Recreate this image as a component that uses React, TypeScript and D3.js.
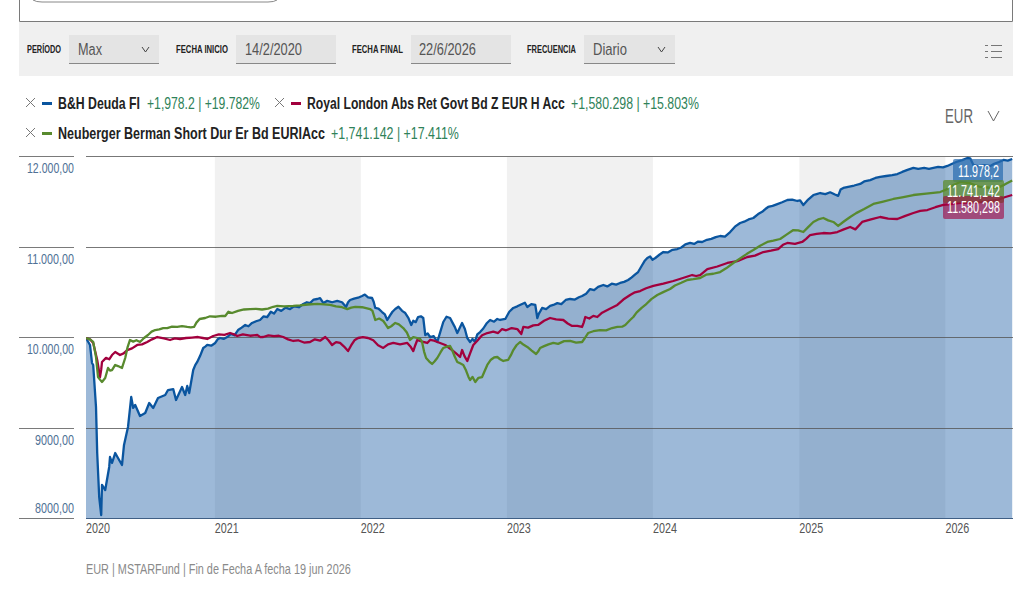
import React, { useLayoutEffect, useRef } from "react";
import * as d3 from "d3";

const startDate = new Date(2020, 1, 14);
const endDate = new Date(2026, 5, 19);

const yTickValues = [12000, 11000, 10000, 9000, 8000];
const yTickLabels = ["12.000,00", "11.000,00", "10.000,00", "9000,00", "8000,00"];
const yearLabels = [2020, 2021, 2022, 2023, 2024, 2025, 2026];
const shadedYears = [2021, 2023, 2025];

// [days since start, value]
const blueSeries: [number, number][] = [[0,10000],[10,9923],[15,9724],[18,9702],[25,9238],[28,8729],[33,8243],[38,8044],[40,8376],[48,8320],[58,8575],[60,8685],[65,8619],[73,8729],[80,8674],[90,8597],[95,8818],[105,9017],[113,9348],[118,9227],[123,9260],[135,9138],[148,9171],[158,9282],[168,9227],[180,9337],[198,9370],[205,9425],[218,9436],[225,9315],[240,9459],[248,9370],[253,9470],[258,9392],[268,9646],[273,9700],[278,9735],[285,9800],[293,9890],[298,9905],[303,9923],[313,9915],[323,9945],[329,9985],[335,10000],[344,9990],[353,10011],[362,10045],[371,10030],[380,10088],[389,10115],[398,10144],[406,10130],[415,10166],[425,10185],[435,10199],[444,10240],[453,10232],[462,10290],[470,10270],[478,10320],[488,10300],[499,10335],[510,10320],[520,10350],[532,10340],[543,10376],[552,10395],[560,10385],[569,10425],[578,10431],[585,10440],[593,10387],[603,10410],[615,10395],[628,10409],[640,10395],[650,10343],[655,10395],[660,10420],[670,10435],[680,10445],[690,10464],[697,10480],[705,10450],[715,10442],[719,10400],[723,10332],[731,10325],[740,10287],[747,10260],[753,10199],[760,10250],[766,10290],[773,10320],[781,10345],[790,10300],[798,10276],[806,10220],[813,10144],[818,10190],[824,10175],[830,10232],[837,10240],[843,10221],[848,10033],[854,10050],[860,10011],[869,10020],[878,9956],[885,10060],[893,10177],[901,10235],[910,10221],[916,10170],[922,10120],[928,10055],[934,10110],[940,10166],[947,10100],[953,10000],[960,9956],[966,9990],[972,9960],[978,10040],[985,10066],[993,10105],[1001,10160],[1010,10199],[1020,10180],[1028,10210],[1035,10199],[1048,10210],[1058,10290],[1068,10332],[1078,10350],[1090,10376],[1097,10390],[1103,10343],[1113,10375],[1123,10365],[1128,10221],[1132,10270],[1136,10300],[1140,10332],[1150,10320],[1160,10355],[1168,10365],[1178,10385],[1188,10375],[1199,10420],[1210,10431],[1222,10425],[1232,10450],[1240,10464],[1250,10490],[1260,10541],[1270,10530],[1280,10565],[1293,10586],[1303,10570],[1314,10600],[1325,10590],[1335,10608],[1345,10620],[1355,10641],[1364,10670],[1372,10700],[1380,10729],[1388,10790],[1396,10850],[1403,10884],[1410,10900],[1416,10865],[1423,10884],[1433,10920],[1443,10950],[1454,10945],[1466,10975],[1478,10983],[1488,11000],[1498,11035],[1510,11050],[1520,11040],[1530,11065],[1540,11061],[1552,11085],[1563,11095],[1574,11115],[1585,11127],[1597,11120],[1610,11171],[1622,11230],[1635,11271],[1645,11285],[1656,11310],[1668,11326],[1680,11370],[1690,11395],[1698,11425],[1705,11448],[1716,11460],[1728,11480],[1740,11500],[1753,11525],[1765,11530],[1778,11514],[1785,11520],[1793,11470],[1805,11530],[1818,11580],[1826,11590],[1835,11602],[1848,11590],[1860,11610],[1872,11585],[1880,11570],[1886,11640],[1893,11658],[1905,11670],[1920,11685],[1935,11702],[1945,11730],[1960,11745],[1973,11768],[1985,11780],[2000,11790],[2015,11800],[2028,11812],[2040,11835],[2055,11860],[2068,11879],[2080,11870],[2095,11880],[2107,11870],[2118,11879],[2130,11890],[2142,11885],[2153,11901],[2165,11925],[2178,11950],[2190,11965],[2203,11989],[2210,11985],[2218,11912],[2230,11900],[2245,11910],[2260,11901],[2270,11925],[2282,11945],[2293,11967],[2304,11960],[2315,11978]];

const greenSeries: [number, number][] = [[0,10000],[10,9985],[18,9956],[25,9790],[30,9569],[35,9540],[40,9514],[48,9558],[55,9669],[60,9640],[65,9646],[73,9702],[80,9690],[90,9669],[98,9779],[104,9900],[110,9978],[118,9960],[126,9975],[135,9956],[145,10000],[155,10033],[164,10070],[173,10088],[183,10095],[193,10110],[203,10110],[215,10125],[228,10122],[240,10130],[253,10122],[262,10118],[270,10122],[276,10170],[284,10210],[298,10221],[310,10240],[325,10235],[340,10245],[348,10243],[356,10290],[365,10276],[380,10300],[395,10315],[410,10320],[425,10322],[440,10315],[455,10325],[468,10345],[478,10354],[495,10350],[518,10354],[535,10360],[555,10370],[578,10376],[595,10372],[610,10365],[625,10350],[640,10340],[653,10320],[663,10335],[673,10343],[690,10340],[710,10320],[716,10300],[723,10199],[733,10215],[743,10188],[749,10150],[755,10110],[763,10130],[773,10166],[782,10150],[793,10110],[802,10060],[810,9978],[818,10010],[828,10000],[835,9990],[840,9956],[845,9850],[850,9779],[858,9740],[865,9713],[871,9740],[878,9779],[886,9840],[893,9890],[902,9905],[910,9912],[915,9870],[921,9800],[928,9735],[935,9720],[943,9702],[950,9640],[956,9570],[960,9536],[966,9570],[973,9514],[981,9560],[990,9569],[997,9640],[1003,9702],[1012,9760],[1020,9785],[1028,9790],[1035,9765],[1043,9746],[1055,9757],[1062,9810],[1068,9867],[1076,9920],[1085,9956],[1094,9925],[1103,9901],[1114,9860],[1125,9823],[1130,9850],[1135,9890],[1145,9910],[1156,9930],[1168,9945],[1180,9935],[1195,9965],[1210,9967],[1225,9950],[1240,9956],[1247,10000],[1255,10055],[1268,10075],[1285,10088],[1300,10085],[1315,10110],[1328,10122],[1340,10125],[1348,10144],[1360,10199],[1368,10232],[1376,10280],[1388,10330],[1398,10365],[1413,10430],[1428,10475],[1444,10510],[1460,10541],[1472,10580],[1488,10610],[1503,10641],[1518,10650],[1535,10663],[1550,10700],[1568,10710],[1585,10729],[1600,10770],[1618,10829],[1635,10880],[1652,10930],[1668,10972],[1685,11020],[1703,11061],[1718,11075],[1735,11094],[1750,11140],[1768,11193],[1780,11190],[1793,11171],[1805,11225],[1818,11282],[1830,11310],[1843,11326],[1855,11300],[1868,11282],[1880,11238],[1895,11290],[1910,11337],[1925,11380],[1945,11425],[1968,11481],[1990,11505],[2018,11536],[2040,11555],[2068,11580],[2100,11595],[2135,11613],[2150,11640],[2168,11690],[2185,11724],[2210,11710],[2235,11669],[2258,11660],[2278,11658],[2296,11695],[2315,11741]];

const redSeries: [number, number][] = [[0,10000],[10,9985],[18,9945],[28,9757],[35,9569],[38,9650],[40,9735],[50,9780],[58,9765],[65,9812],[73,9845],[85,9812],[94,9830],[103,9867],[115,9885],[128,9923],[140,9930],[153,9956],[165,9985],[178,10011],[195,9995],[210,9978],[222,9995],[235,9989],[250,10000],[265,10005],[280,10011],[292,10000],[303,9989],[318,10022],[332,10040],[346,10035],[360,10055],[370,10040],[378,10022],[392,10040],[410,10025],[428,10033],[436,10010],[443,10011],[456,10030],[470,10020],[482,10025],[493,10011],[505,9985],[518,9967],[530,9975],[545,9950],[560,9956],[572,9985],[585,9970],[598,10011],[606,9975],[615,9923],[625,9955],[635,9945],[645,9905],[655,9856],[663,9920],[671,9975],[680,10000],[692,10010],[705,10000],[718,9975],[730,9920],[743,9890],[755,9930],[768,9945],[785,9930],[803,9945],[812,9900],[818,9856],[823,9920],[828,9978],[840,9960],[853,9945],[860,9978],[870,9970],[885,9945],[898,9923],[908,9890],[915,9867],[925,9830],[935,9790],[940,9867],[946,9800],[953,9746],[960,9830],[968,9923],[978,9970],[990,10030],[1003,10055],[1018,10070],[1030,10055],[1040,10099],[1050,10085],[1064,10110],[1078,10099],[1088,10044],[1093,10122],[1105,10115],[1118,10140],[1130,10144],[1145,10190],[1160,10221],[1175,10205],[1193,10199],[1204,10160],[1215,10133],[1228,10135],[1240,10122],[1244,10170],[1248,10232],[1258,10215],[1268,10245],[1278,10232],[1290,10280],[1308,10320],[1328,10365],[1343,10425],[1360,10475],[1372,10505],[1385,10519],[1400,10550],[1418,10575],[1443,10600],[1468,10630],[1490,10660],[1515,10696],[1525,10685],[1535,10696],[1553,10762],[1578,10790],[1603,10829],[1628,10850],[1653,10895],[1672,10910],[1693,10950],[1712,10965],[1730,10983],[1742,11030],[1753,11050],[1772,11040],[1790,11061],[1800,11095],[1810,11138],[1826,11150],[1843,11160],[1860,11155],[1878,11171],[1894,11200],[1910,11227],[1923,11200],[1940,11282],[1962,11310],[1985,11337],[2005,11320],[2028,11315],[2048,11350],[2068,11381],[2085,11405],[2103,11414],[2123,11445],[2143,11470],[2163,11480],[2185,11492],[2210,11495],[2235,11503],[2255,11510],[2278,11525],[2296,11555],[2315,11580]];

const NARROW = '"Liberation Sans Narrow", "Liberation Sans", sans-serif';
const LINE = "#7a7a7a";
const BLUE = "#0a559f";
const RED = "#a2003d";
const GREEN = "#588a2e";
const POS = "#2f8259";

type TP = { x: number; y: number; w: number; s: number; c: string; b?: boolean; a?: "start" | "end"; children: React.ReactNode };
const T = ({ x, y, w, s, c, b, a, children }: TP) => {
  const ref = useRef<SVGTextElement>(null);
  const x0 = a === "end" ? x - w : x;
  useLayoutEffect(() => {
    const el = ref.current;
    if (!el) return;
    const len = el.getComputedTextLength();
    el.setAttribute("transform", `translate(${x0},${y}) scale(${w / len},1)`);
  });
  return (
    <text ref={ref} transform={`translate(${x0},${y})`} fontFamily={NARROW} fontSize={s} fill={c} fontWeight={b ? 700 : 400}>{children}</text>
  );
};

const Chevron = ({ x, y, w = 8, h = 5, c = "#444" }: { x: number; y: number; w?: number; h?: number; c?: string }) => (
  <path d={`M${x},${y}L${x + w / 2},${y + h}L${x + w},${y}`} fill="none" stroke={c} strokeWidth={1} />
);
const Cross = ({ x, y }: { x: number; y: number }) => (
  <path d={`M${x},${y}l9,9M${x + 9},${y}l-9,9`} fill="none" stroke="#777" strokeWidth={1} />
);

export default function App() {
  const plot = { l: 86, r: 1013, t: 157, b: 519 };
  const x = d3.scaleTime().domain([startDate, endDate]).range([plot.l, plot.r]);
  const y = d3.scaleLinear().domain([8000, 12000]).range([plot.b, plot.t]);
  const toPts = (s: [number, number][]) => s.map(([d, v]) => [x(d3.timeDay.offset(startDate, d)), y(v)] as [number, number]);
  const line = d3.line();
  const blue = toPts(blueSeries);
  const area = d3.area().y0(plot.b).x((p) => p[0]).y1((p) => p[1])(blue) as string;

  return (
    <svg width={1026} height={598} style={{ position: "absolute", left: 0, top: 0, display: "block", background: "#fff" }}>
      <defs>
        <clipPath id="plotClip"><rect x={plot.l} y={plot.t - 2} width={plot.r - plot.l} height={plot.b - plot.t + 2} /></clipPath>
      </defs>

      <path d="M19.5,0V21.5H1012.5V0" fill="none" stroke={LINE} strokeWidth={1} />
      <path d="M33,0Q36,2 42,2H268Q274,2 277,0" fill="none" stroke="#888" strokeWidth={1} />
      <rect x={19} y={22} width={994} height={54} fill="#f0f0f0" />

      <T x={27} y={53} w={34} s={11} c="#222" b>PERÍODO</T>
      <rect x={69} y={35} width={90} height={28} fill="#e4e4e4" />
      <line x1={69} x2={159} y1={63.5} y2={63.5} stroke="#888" />
      <T x={78} y={55} w={24} s={17} c="#555">Max</T>
      <Chevron x={142} y={47} w={7} h={5} />

      <T x={176} y={53} w={52} s={11} c="#222" b>FECHA INICIO</T>
      <rect x={236} y={35} width={100} height={28} fill="#e4e4e4" />
      <line x1={236} x2={336} y1={63.5} y2={63.5} stroke="#888" />
      <T x={245} y={55} w={57} s={17} c="#555">14/2/2020</T>

      <T x={352} y={53} w={51} s={11} c="#222" b>FECHA FINAL</T>
      <rect x={411} y={35} width={100} height={28} fill="#e4e4e4" />
      <line x1={411} x2={511} y1={63.5} y2={63.5} stroke="#888" />
      <T x={419} y={55} w={57} s={17} c="#555">22/6/2026</T>

      <T x={527} y={53} w={49} s={11} c="#222" b>FRECUENCIA</T>
      <rect x={584} y={35} width={91} height={28} fill="#e4e4e4" />
      <line x1={584} x2={675} y1={63.5} y2={63.5} stroke="#888" />
      <T x={593} y={55} w={34} s={17} c="#555">Diario</T>
      <Chevron x={658} y={47} w={7} h={5} />

      <path d="M985,45.5h3M991,45.5h11M985,51.5h3M991,51.5h11M985,57.5h3M991,57.5h11" stroke="#777" strokeWidth={1} fill="none" />

      <Cross x={26} y={98} />
      <rect x={42} y={102} width={10} height={3} fill={BLUE} />
      <T x={58} y={109} w={82} s={16} c="#222" b>B&amp;H Deuda FI</T>
      <T x={147} y={109} w={113} s={16} c={POS}>+1,978.2 | +19.782%</T>
      <Cross x={275} y={98} />
      <rect x={291} y={102} width={10} height={3} fill={RED} />
      <T x={307} y={109} w={258} s={16} c="#222" b>Royal London Abs Ret Govt Bd Z EUR H Acc</T>
      <T x={571} y={109} w={128} s={16} c={POS}>+1,580.298 | +15.803%</T>
      <Cross x={26} y={128} />
      <rect x={42} y={132} width={10} height={3} fill={GREEN} />
      <T x={58} y={139} w={267} s={16} c="#222" b>Neuberger Berman Short Dur Er Bd EURIAcc</T>
      <T x={331} y={139} w={128} s={16} c={POS}>+1,741.142 | +17.411%</T>

      <T x={945} y={123} w={28} s={21} c="#666">EUR</T>
      <Chevron x={988} y={111} w={11} h={10} c="#666" />

      {shadedYears.map((yr) => (
        <rect key={yr} x={x(new Date(yr, 0, 1))} y={plot.t} width={x(new Date(yr + 1, 0, 1)) - x(new Date(yr, 0, 1))} height={plot.b - plot.t} fill="#f1f1f1" />
      ))}

      <path d={area} fill="#0a509d" fillOpacity={0.4} clipPath="url(#plotClip)" />

      {yTickValues.map((v, i) => {
        const py = Math.round(y(v)) - 0.5;
        const last = i === yTickValues.length - 1;
        return (
          <g key={v}>
            <line x1={19} x2={74} y1={py} y2={py} stroke={LINE} strokeWidth={1} />
            <line x1={plot.l} x2={plot.r} y1={py} y2={py} stroke={last ? "#3f5f85" : "#555"} strokeOpacity={last ? 1 : 0.8} strokeWidth={1} />
            <T x={74} y={last ? py - 6 : py + 16} s={15} c="#4f7196" a="end" w={v >= 10000 ? 47 : 39}>{yTickLabels[i]}</T>
          </g>
        );
      })}

      <g clipPath="url(#plotClip)" fill="none" strokeLinejoin="round">
        <path d={line(blue) as string} stroke={BLUE} strokeWidth={2.3} />
        <path d={line(toPts(redSeries)) as string} stroke={RED} strokeWidth={2.3} />
        <path d={line(toPts(greenSeries)) as string} stroke={GREEN} strokeWidth={2.3} />
      </g>

      {yearLabels.map((yr) => (
        <T key={yr} x={yr === 2020 ? plot.l : x(new Date(yr, 0, 1))} y={533} w={24} s={15} c="#555">{String(yr)}</T>
      ))}

      <rect x={953} y={159} width={50} height={23} rx={2} fill="#2a6cb0" fillOpacity={0.72} />
      <rect x={943} y={180} width={61} height={23} rx={2} fill="#5c8c2c" fillOpacity={0.75} />
      <rect x={943} y={196} width={61} height={23} rx={2} fill="#a2003d" fillOpacity={0.6} />
      <T x={958} y={177} w={41} s={16} c="#fff">11.978,2</T>
      <T x={947} y={197} w={53} s={16} c="#fff">11.741,142</T>
      <T x={947} y={213} w={53} s={16} c="#fff">11.580,298</T>

      <T x={86} y={574} w={265} s={15} c="#8a8a8a">EUR | MSTARFund | Fin de Fecha A fecha 19 jun 2026</T>
    </svg>
  );
}
